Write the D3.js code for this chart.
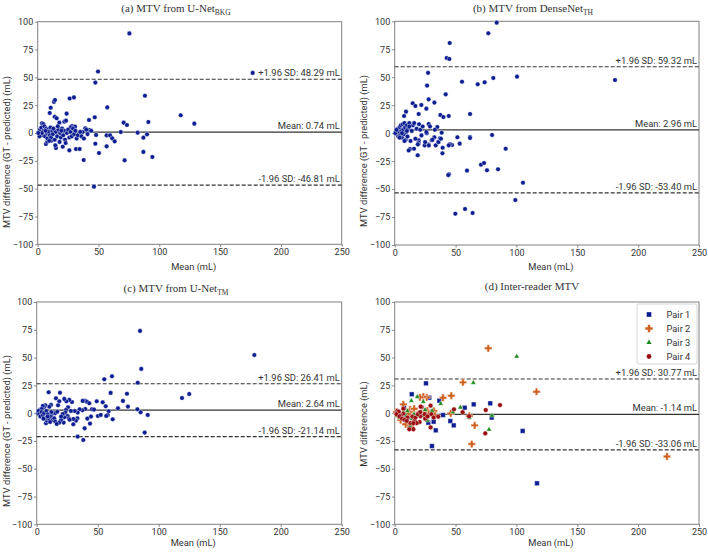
<!DOCTYPE html>
<html>
<head>
<meta charset="utf-8">
<script src="https://cdn.jsdelivr.net/npm/d3@7"></script>
<style>
body{margin:0;background:#fff}
text{font-family:Roboto,"Noto Sans",sans-serif;fill:#333}
</style>
</head>
<body>
<svg id="chart" width="708" height="552"></svg>
<script>
// tick labels
const xTicks = [0, 50, 100, 150, 200, 250]
const yTicks = [-100, -75, -50, -25, 0, 25, 50, 75, 100]

// panel titles: [main, subscript]
const titles = [
  ["(a) MTV from U-Net", "BKG"],
  ["(b) MTV from DenseNet", "TH"],
  ["(c) MTV from U-Net", "TM"],
  ["(d) Inter-reader MTV", ""]
]
const yLabels = ["MTV difference (GT - predicted) (mL)", "MTV difference (GT - predicted) (mL)",
  "MTV difference (GT - predicted) (mL)", "MTV difference (mL)"]

// Bland-Altman lines
const meanVals = [0.74, 2.96, 2.64, -1.14]
const upperVals = [48.29, 59.32, 26.41, 30.77]
const lowerVals = [-46.81, -53.40, -21.14, -33.06]

// (a) U-Net BKG: [mean, difference]
const unetBkg = [
  [75.4,89.5],[49.6,55.2],[47.4,45.3],[176.8,54],[88.2,33.5],[117.6,15.9],[128.8,8.4],[91,9.9],
  [57.2,23],[26.3,31],[29.8,32],[13.4,28],[14.2,29.6],[10.7,22.7],[9.9,18],[23.8,17.4],[14,14.6],
  [15.6,13.2],[42.2,11.7],[46.9,14.1],[70.7,9.3],[73.4,7.2],[21.9,10.2],[23.3,11.1],[17.8,9.3],
  [28.2,6.3],[30.7,5.7],[27.1,5.1],[3.5,8.7],[4.6,8.1],[39.1,4.2],[42.4,2.7],[37,0.9],[68.3,0.9],
  [82.2,0.3],[86.9,-4.2],[89.9,-1.2],[48,-1.8],[47.4,-9.6],[56.7,-2.1],[59.5,-2.1],[61.3,-4.8],
  [63.3,-7.5],[56.7,-12],[50.4,-18],[71.5,-24.5],[86.9,-17],[94.3,-21.5],[37.8,-24.3],[46.3,-48.2],
  [31.5,-14.4],[34.5,-14.4],[26,-15.6],[20.6,-12.3],[15,-13.5],[14.5,-11],[6.8,-9.9],[7.9,-7.8],
  [11.2,-6.9],[1,1],[2,3],[2.5,-1],[3,5],[4,-2],[5,2],[5.5,6],[6,-3],[7,4],[7.5,0],[8,-5],[8.5,3],
  [9,1],[10,-2],[10.5,5],[11,-4],[12,2],[12.5,-1],[13,4],[14,-6],[15,1],[16,-3],[17,3],[18,-8],
  [18.5,0],[19,-4],[20,4],[21,-2],[22,2],[22.5,-6],[23,-9],[24,0],[25,3],[26,-4],[27,1],[28,-3],
  [29,4],[30,-1],[31,2],[32,-5],[33,-2],[35,1],[36,-3],[38,-5],[40,3],[41,-1],[44,2],[1.5,-3],
  [3.5,0],[6.5,2],[9.5,-7],[16.5,6],[19.5,2],[0.5,0]
]

// (b) DenseNet TH
const denseNetTh = [
  [83.8,98.8],[76.9,89.3],[45.2,80.6],[42.7,67.2],[44.9,66.3],[27.4,53.9],[26.6,42.5],[55.3,46],
  [68.2,43.7],[73.9,45.5],[81,49.3],[100.5,50.5],[181,47.5],[41.9,34.7],[27.9,30.2],[32.6,27.3],
  [14.8,26.7],[17,24.3],[21.9,25.2],[26,21.9],[9.3,19.2],[19.7,17.1],[7.7,15.4],[37.5,16.2],
  [40,14.4],[44.4,15.4],[61.9,17.1],[27.9,8.2],[35,5.5],[80,-1.6],[61.9,-3.4],[61.9,-4.3],
  [51.5,-3.7],[53.4,-9.4],[47.1,-10.6],[45.4,-10],[44.4,-10.9],[39.4,-13],[39.2,-18],[18.9,-19.8],
  [12.6,-14.2],[15.9,-13.9],[24.6,-10.9],[27.9,-10.3],[33.7,-10.9],[30.4,-6.4],[32.6,-3.7],
  [37.2,-4.6],[35.6,-7.9],[19.7,-6.4],[19.7,-8.5],[19.2,-10],[26.3,-0.1],[38.6,0.4],[91.2,-13.9],
  [70.9,-28.2],[73.4,-26.7],[75.8,-33.2],[84.9,-32.3],[59.4,-33.5],[44.6,-36.8],[44,-37.5],
  [105.4,-44.3],[99.1,-59.8],[49.8,-72],[57.8,-67.8],[64,-71.4],
  [1,2],[2,-1],[2.5,4],[3,-3],[3.5,1],[4,5],[4.5,-2],[5,7],[5.5,2],[6,-4],[6.5,8],[7,3],[7.5,-1],
  [8,9],[8.5,5],[9,-6],[9.5,1],[10,7],[10.5,-3],[11,4],[11.5,-15.5],[12,9],[13,-7],[14,2],[15,7],
  [16,9],[17,-5],[18,4],[19,-10],[20,8],[21,3],[22,-2],[23,6],[25,-8],[26,1],[28,-11],[29,6],
  [31,-6],[33,3],[36,-8],[38,-5],[0.5,0],[1.5,3],[4,-4],[6,0],[8,-7],[10,2],[12,6]
]

// (c) U-Net TM
const unetTm = [
  [84.7,74],[85.7,39.8],[82.8,27.4],[61.7,33.2],[55.4,30.5],[60.6,18.2],[74,17.5],[70.7,11],
  [74.8,5.9],[82.5,3.5],[85.2,0.8],[91,-1.6],[88.5,-17.5],[66.6,4.4],[62.3,-5.5],[59,1.7],
  [58.2,-1.6],[57,-2.5],[54.1,9.8],[56.6,6.2],[49.2,10.7],[50.2,-2.5],[52.5,-1.6],[45.3,3.5],
  [47,3.2],[44.5,-3.1],[41.5,-4.9],[43.7,-9.4],[39.8,11],[41.2,10.3],[37.7,11],[43.1,8.9],
  [39.8,3.8],[37.4,2.6],[35.2,3.5],[33.6,0.5],[39.3,-13.6],[33.6,-21.1],[38.2,-24.1],[33.3,-4.6],
  [32.2,-6.7],[30,-5.2],[30,-10],[31.1,2],[28.9,10],[26.7,11.9],[24.3,10.7],[22.6,12.8],[25.7,5.3],
  [24,2.9],[23.4,0.5],[25.4,-2.5],[26.2,-4.6],[22.6,-3.7],[22.1,-8.5],[19.9,-6.1],[18.5,-8.5],
  [19.1,18.4],[9.8,18.8],[15.8,13.4],[18.5,10.7],[17.5,7.1],[11.7,7.4],[10.3,5.8],[7.1,7.1],
  [6,5.3],[5,6.5],[2.5,3],[3.5,2],[4,3.8],[7.6,-9.1],[8.2,-6.7],[7.1,-4.6],[10.3,-5.5],
  [11.7,-2.5],[13.1,-6.1],[14.4,-4.6],[15.2,-7.6],[16.4,-9.7],[13.6,0],[15.2,0],[16.9,1.3],
  [21.3,-0.7],[178.4,52.3],[119.1,13.6],[125,17.2],[1,0],[1.5,2],[2,-1],[3,-3],[4,1],[5,-2],
  [6,0],[8,2],[9,-1],[12,1],[5.5,-5],[9,-3],[11,-8],[20,-3],[27,-6],[28,2]
]

// (d) inter-reader pairs
const pair1 = [
  [25.7,26.8],[14,17],[36.7,11.2],[28.4,13.9],[57.5,4.9],[64.9,7.9],[78.5,8.8],[79.7,-4],[45.7,-7.1],
  [48.5,-11],[39.7,-1.7],[27.6,-8.6],[32,-7.7],[33.7,-15.5],[30.6,-29.6],[105.1,-16],
  [116.9,-63.1],[20.3,-1.3],[7.7,4.9],[3,-1],[11,-3],[26.8,0.4]
]
const pair2 = [
  [76.9,58.3],[116.5,19.3],[223.7,-39],[56.1,27.7],[46.5,15.7],[39.7,13.9],[26.3,14.2],[23.5,14.8],
  [20.8,14.2],[63.3,-27.8],[65.7,-11],[61.3,-2.6],[46,-0.2],[26.8,2.2],[12.6,3.4],[7.1,7.9],[9,-10],
  [13.1,-11.3],[4.9,-6.2],[3,-2.5],[32.3,2],[15.9,-2.5],[1.5,1],[12,1],[16,4],[19,-1],[24,0],
  [28,-1],[33,-2],[11,-1],[6,-3]
]
const pair3 = [
  [100.2,51],[64.6,27.4],[54,5.2],[47.9,1],[37.8,8.5],[23.5,10.3],[18.6,14.8],[13.7,11.2],
  [77.5,-14.8],[79.9,-2.2],[61.3,-4],[30.7,2.2],[26.8,-6.7],[12.6,-12.1],[4.9,-4.6],[2.2,-2.5],
  [10.4,2],[15.9,-1],[22.7,-2.5],[7,1],[9,-2],[14,-5],[17,-8],[19,-2],[25,3]
]
const pair4 = [
  [86.5,7.3],[74.4,-18.2],[74.8,2.8],[55.8,0.8],[61.1,-2.8],[48.7,3.4],[29.5,6.7],[29.5,-12.8],
  [21.1,-2.8],[20.5,-8],[15.3,-14.5],[12,-14.5],[16.4,-6.4],[14.5,-3.1],[7.1,4],[7.1,-0.4],
  [4.9,-2],[2.2,2],[10.4,-4],[22.2,5.5],[35.8,-3.2],[24.6,-1],[30.1,-1],[18,-9],[3.3,1.3],
  [1.5,-1],[4,-3],[6,-5],[8,-6],[10,-7],[13,-9],[15.3,-9.1],[17,-4],[19,-1],[21.3,5.8],[21,1],
  [25,-5],[27,-3],[32,-4]
]
const pairNames = ["Pair 1", "Pair 2", "Pair 3", "Pair 4"]
const pairColors = ["#0c1d92", "#d0601e", "#1b8a1b", "#9a0f12"]
const pointColor = "#0c1d92"

// panel boxes in page pixels
const boxes = [
  {left: 37.7, right: 341.7, top: 21.7, bottom: 244.3, tx: 176, ty: 12, lx: 7, ly: 152, xy: 270},
  {left: 394.7, right: 699, top: 21.3, bottom: 245, tx: 533, ty: 12, lx: 364, ly: 151, xy: 269.5},
  {left: 36.7, right: 341.7, top: 302, bottom: 524.3, tx: 176, ty: 292, lx: 7, ly: 431, xy: 546},
  {left: 394.7, right: 699, top: 302, bottom: 524.3, tx: 532, ty: 290, lx: 364, ly: 424, xy: 546}
]

const svg = d3.select("#chart")
const panelData = [unetBkg, denseNetTh, unetTm]

boxes.forEach(function(b, i) {
  const x = d3.scaleLinear().domain([0, 250]).range([b.left, b.right])
  const y = d3.scaleLinear().domain([-100, 100]).range([b.bottom, b.top])
  const g = svg.append("g")

  // frame
  g.append("rect").attr("x", b.left).attr("y", b.top)
    .attr("width", b.right - b.left).attr("height", b.bottom - b.top)
    .attr("fill", "none").attr("stroke", "#808080").attr("stroke-width", 1)

  const xa = g.append("g").attr("transform", "translate(0," + b.bottom + ")")
    .call(d3.axisBottom(x).tickValues(xTicks).tickSize(2.5).tickPadding(2))
  const ya = g.append("g").attr("transform", "translate(" + b.left + ",0)")
    .call(d3.axisLeft(y).tickValues(yTicks).tickSize(2.5).tickPadding(2))
  ;[xa, ya].forEach(function(a) {
    a.select(".domain").remove()
    a.selectAll("line").attr("stroke", "#808080")
    a.selectAll("text").style("font-size", "9px").style("font-family", "Roboto, sans-serif").attr("fill", "#333")
  })

  // title with subscript
  const t = g.append("text").attr("x", b.tx).attr("y", b.ty).attr("text-anchor", "middle")
    .style("font-family", "'Liberation Serif','Times New Roman',serif").style("font-size", "11px").attr("fill", "#222")
  t.append("tspan").text(titles[i][0])
  if (titles[i][1]) t.append("tspan").attr("dy", 2.5).style("font-size", "7.5px").text(titles[i][1])

  g.append("text").attr("x", (b.left + b.right) / 2 + 4).attr("y", b.xy).attr("text-anchor", "middle")
    .style("font-size", "9.3px").text("Mean (mL)")
  g.append("text").attr("transform", "translate(" + b.lx + "," + b.ly + ") rotate(-90)")
    .attr("text-anchor", "middle").attr("dy", "0.35em").style("font-size", "9.3px").text(yLabels[i])

  // mean and limits
  const lines = [
    {v: upperVals[i], dash: "4,2", w: 1.1, label: "+1.96 SD: " + upperVals[i].toFixed(2) + " mL"},
    {v: meanVals[i], dash: null, w: 1.3, label: "Mean: " + meanVals[i].toFixed(2) + " mL"},
    {v: lowerVals[i], dash: "4,2", w: 1.1, label: "-1.96 SD: " + lowerVals[i].toFixed(2) + " mL"}
  ]
  lines.forEach(function(l) {
    g.append("line").attr("x1", b.left).attr("x2", b.right).attr("y1", y(l.v)).attr("y2", y(l.v))
      .attr("stroke", "#333").attr("stroke-width", l.w).attr("stroke-dasharray", l.dash)
    g.append("text").attr("x", b.right - 2).attr("y", y(l.v) - 3).attr("text-anchor", "end")
      .style("font-size", "9.4px").text(l.label)
  })

  if (i < 3) {
    g.append("g").selectAll("circle").data(panelData[i]).enter().append("circle")
      .attr("cx", function(d) { return x(d[0]) })
      .attr("cy", function(d) { return y(d[1]) })
      .attr("r", 2.3).attr("fill", pointColor).attr("stroke", "#fff").attr("stroke-width", 0.4)
  } else {
    const pairs = [pair1, pair2, pair3, pair4]
    const shapes = [d3.symbolSquare, d3.symbolCross, d3.symbolTriangle, d3.symbolCircle]
    const sizes = [22, 30, 12, 18]
    pairs.forEach(function(p, k) {
      g.append("g").selectAll("path").data(p).enter().append("path")
        .attr("d", d3.symbol().type(shapes[k]).size(sizes[k]))
        .attr("transform", function(d) { return "translate(" + x(d[0]) + "," + y(d[1]) + ")" })
        .attr("fill", pairColors[k]).attr("stroke", "#fff").attr("stroke-width", 0.4)
    })
    // legend
    const lg = g.append("g")
    lg.append("rect").attr("x", 637).attr("y", 304).attr("width", 60).attr("height", 60)
      .attr("rx", 2).attr("fill", "#fff").attr("stroke", "#cccccc").attr("stroke-width", 0.8)
    pairNames.forEach(function(n, k) {
      const yy = 314.5 + k * 14
      lg.append("path").attr("d", d3.symbol().type(shapes[k]).size(sizes[k]))
        .attr("transform", "translate(649," + yy + ")").attr("fill", pairColors[k])
      lg.append("text").attr("x", 666.5).attr("y", yy).attr("dy", "0.35em")
        .style("font-size", "9.3px").text(n)
    })
  }
})
</script>
</body>
</html>
